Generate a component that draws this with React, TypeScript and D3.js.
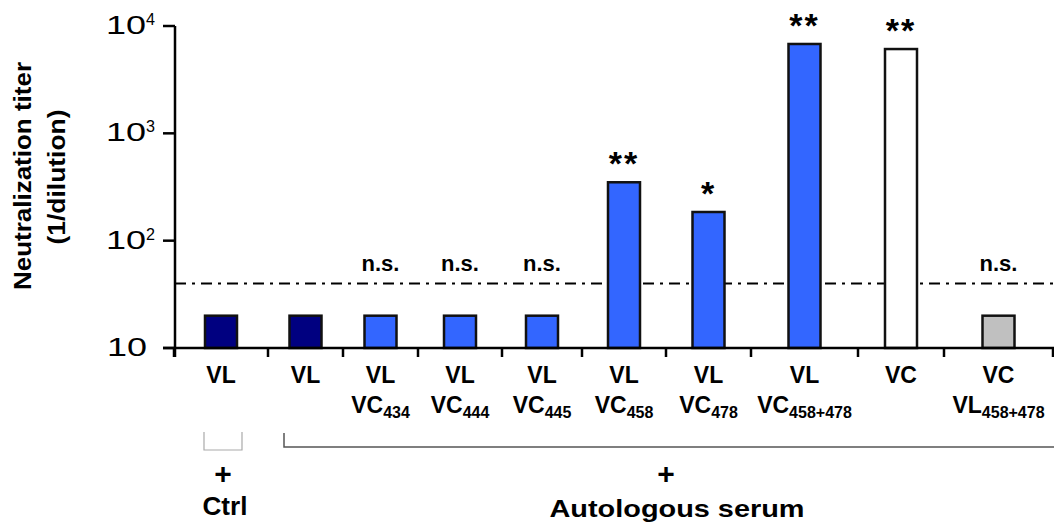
import React from "react";
import * as d3 from "d3";

// ---------- data ----------
const line1Labels = ["VL", "VL", "VL", "VL", "VL", "VL", "VL", "VL", "VC", "VC"];
const line2Main = ["", "", "VC", "VC", "VC", "VC", "VC", "VC", "", "VL"];
const line2Sub = ["", "", "434", "444", "445", "458", "478", "458+478", "", "458+478"];
const titers = [20, 20, 20, 20, 20, 350, 185, 6800, 6100, 20];
const significance = ["", "", "n.s.", "n.s.", "n.s.", "**", "*", "**", "**", "n.s."];
const threshold = 40;
const yTickExponents = [1, 2, 3, 4];
const groupLabels = ["Ctrl", "Autologous serum"];

// ---------- style / layout ----------
const barFills = ["#000080", "#000080", "#3366FF", "#3366FF", "#3366FF", "#3366FF", "#3366FF", "#3366FF", "#FFFFFF", "#C0C0C0"];
const bandWeights = [94, 75, 75, 84, 80, 84, 85, 107, 86, 109];
const W = 1054;
const H = 529;
const X0 = 174;
const Y_TOP = 26;
const Y_BOT = 348;
const BAR_W = 32;
const FONT = "Liberation Sans, Arial, Helvetica, sans-serif";

export default function App() {
  const y = d3.scaleLog().domain([10, 10000]).range([Y_BOT, Y_TOP]);
  const edges = [X0, ...Array.from(d3.cumsum(bandWeights), (c) => X0 + c)];
  const idx = d3.range(titers.length);
  const center = (i: number) => (edges[i] + edges[i + 1]) / 2;
  const yThr = y(threshold);

  return (
    <svg
      width={W}
      height={H}
      style={{ position: "absolute", left: 0, top: 0, background: "#fff" }}
      fontFamily={FONT}
    >
      <rect x={0} y={0} width={W} height={H} fill="#fff" />

      {/* Y axis title */}
      <text
        transform={`translate(31,176) rotate(-90)`}
        textAnchor="middle"
        fontSize={24}
        fontWeight="bold"
        textLength={228}
        lengthAdjust="spacingAndGlyphs"
      >
        Neutralization titer
      </text>
      <text
        transform={`translate(65,177) rotate(-90)`}
        textAnchor="middle"
        fontSize={24}
        fontWeight="bold"
        textLength={135}
        lengthAdjust="spacingAndGlyphs"
      >
        (1/dilution)
      </text>

      {/* threshold line */}
      <line
        x1={X0 + 1}
        x2={W}
        y1={yThr}
        y2={yThr}
        stroke="#000"
        strokeWidth={2}
        strokeDasharray="11,6,3,6"
      />

      {/* bars */}
      {idx.map((i) => (
        <rect
          key={"b" + i}
          x={center(i) - BAR_W / 2}
          y={y(titers[i])}
          width={BAR_W}
          height={Y_BOT - y(titers[i])}
          fill={barFills[i]}
          stroke="#111"
          strokeWidth={2.5}
        />
      ))}

      {/* significance */}
      {idx.map((i) =>
        significance[i] === "n.s." ? (
          <text key={"s" + i} x={center(i)} y={yThr - 12} textAnchor="middle" fontSize={22} fontWeight="bold">
            n.s.
          </text>
        ) : significance[i] ? (
          <text
            key={"s" + i}
            x={center(i)}
            y={y(titers[i]) - 7}
            textAnchor="middle"
            fontSize={34}
            fontWeight="bold"
            letterSpacing={2}
          >
            {significance[i]}
          </text>
        ) : null
      )}

      {/* y axis */}
      <line x1={X0 + 1} x2={X0 + 1} y1={Y_TOP} y2={Y_BOT + 9} stroke="#000" strokeWidth={2.5} />
      {yTickExponents.map((e) => {
        const v = Math.pow(10, e);
        const ty = y(v);
        return (
          <g key={"yt" + e}>
            <line x1={163} x2={X0 + 1} y1={ty} y2={ty} stroke="#000" strokeWidth={2.5} />
            {e === 1 ? (
              <text x={147} y={ty + 8} textAnchor="end" fontSize={25} textLength={40} lengthAdjust="spacingAndGlyphs">
                10
              </text>
            ) : (
              <>
                <text x={146} y={ty + 8} textAnchor="end" fontSize={25} textLength={40} lengthAdjust="spacingAndGlyphs">
                  10
                </text>
                <text x={146} y={ty - 1} fontSize={17} textLength={9} lengthAdjust="spacingAndGlyphs">
                  {e}
                </text>
              </>
            )}
          </g>
        );
      })}

      {/* x axis */}
      <line x1={163} x2={W} y1={Y_BOT} y2={Y_BOT} stroke="#000" strokeWidth={2.5} />
      {edges.map((ex, k) => (
        <line key={"xt" + k} x1={ex} x2={ex} y1={Y_BOT} y2={Y_BOT + 9} stroke="#000" strokeWidth={2.5} />
      ))}

      {/* category labels */}
      {idx.map((i) => (
        <g key={"c" + i} fontWeight="bold">
          <text x={center(i)} y={383} textAnchor="middle" fontSize={23}>
            {line1Labels[i]}
          </text>
          {line2Main[i] && (
            <text x={center(i)} y={413} textAnchor="middle" fontSize={23}>
              {line2Main[i]}
              <tspan fontSize={16} dy={5}>
                {line2Sub[i]}
              </tspan>
            </text>
          )}
        </g>
      ))}

      {/* group brackets */}
      <path d="M204,432 V450 H242 V432" fill="none" stroke="#aaa" strokeWidth={1.2} />
      <path d="M284,433 V447 H1054" fill="none" stroke="#555" strokeWidth={1.5} />

      <g fontWeight="bold">
        <text x={223} y={484} textAnchor="middle" fontSize={30}>+</text>
        <text x={225} y={515} textAnchor="middle" fontSize={25} textLength={45} lengthAdjust="spacingAndGlyphs">
          {groupLabels[0]}
        </text>
        <text x={666} y={484} textAnchor="middle" fontSize={30}>+</text>
        <text x={677} y={517} textAnchor="middle" fontSize={24} textLength={255} lengthAdjust="spacingAndGlyphs">
          {groupLabels[1]}
        </text>
      </g>
    </svg>
  );
}
